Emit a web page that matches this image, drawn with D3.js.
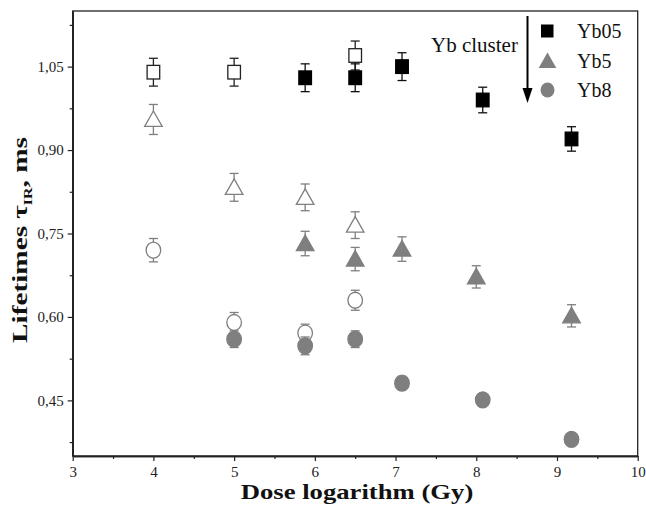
<!DOCTYPE html>
<html><head><meta charset="utf-8">
<script src="https://cdn.jsdelivr.net/npm/d3@7"></script>
<style>body{margin:0;background:#fff}svg{display:block}</style>
</head><body>
<script>
// ---- data ----
const xTicks = [3, 4, 5, 6, 7, 8, 9, 10];
const yTicks = [0.45, 0.60, 0.75, 0.90, 1.05];
const legendLabels = ["Yb05", "Yb5", "Yb8"];

const yb05OpenX = [4, 5, 6.5];
const yb05Open = [1.04, 1.04, 1.07];
const yb05OpenErr = [0.025, 0.025, 0.026];

const yb05X = [5.88, 6.5, 7.08, 8.08, 9.18];
const yb05 = [1.03, 1.03, 1.05, 0.99, 0.92];
const yb05Err = [0.025, 0.025, 0.025, 0.023, 0.022];

const yb5OpenX = [4, 5, 5.88, 6.5];
const yb5Open = [0.955, 0.833, 0.815, 0.765];
const yb5OpenErr = [0.027, 0.025, 0.024, 0.024];

const yb5X = [5.88, 6.5, 7.08, 8.0, 9.18];
const yb5 = [0.732, 0.704, 0.722, 0.672, 0.602];
const yb5Err = [0.022, 0.021, 0.022, 0.02, 0.02];

const yb8OpenX = [4, 5, 5.88, 6.5];
const yb8Open = [0.72, 0.59, 0.571, 0.63];
const yb8OpenErr = [0.021, 0.018, 0.016, 0.018];

const yb8X = [5, 5.88, 6.5, 7.08, 8.08, 9.18];
const yb8 = [0.56, 0.548, 0.56, 0.481, 0.451, 0.38];
const yb8Err = [0.015, 0.016, 0.015, 0.012, 0.01, 0.008];

// ---- layout ----
const W = 646, H = 505;
const L = 72.7, R = 637.7, T = 11, B = 456;
const gray = "#7f7f7f";
const serif = "'Liberation Serif','Times New Roman',serif";

const svg = d3.select("body").append("svg").attr("width", W).attr("height", H);
const x = d3.scaleLinear().domain([3, 10]).range([L, R]);
const y = d3.scaleLinear().domain([0.35, 1.15]).range([B, T]);

// frame
svg.append("rect").attr("x", L).attr("y", T).attr("width", R - L).attr("height", B - T)
  .attr("fill", "none").attr("stroke", "#222").attr("stroke-width", 1.3);

// axes
const xAxis = d3.axisBottom(x).tickValues(xTicks).tickFormat(d3.format("d")).tickSize(5).tickSizeOuter(0).tickPadding(5);
svg.append("g").attr("transform", `translate(0,${B})`).call(xAxis);
const xMinor = d3.axisBottom(x).tickValues(xTicks.slice(0, -1).map(v => v + 0.5)).tickSize(3).tickSizeOuter(0).tickFormat("");
svg.append("g").attr("transform", `translate(0,${B})`).call(xMinor);

const yAxis = d3.axisLeft(y).tickValues(yTicks).tickFormat(d => d3.format(".2f")(d).replace(".", ",")).tickSize(5).tickSizeOuter(0).tickPadding(4);
svg.append("g").attr("transform", `translate(${L},0)`).call(yAxis);
const yMinor = d3.axisLeft(y).tickValues([0.375, 0.525, 0.675, 0.825, 0.975, 1.125]).tickSize(3).tickSizeOuter(0).tickFormat("");
svg.append("g").attr("transform", `translate(${L},0)`).call(yMinor);

svg.selectAll(".domain").attr("stroke", "#222").attr("stroke-width", 1.3);
svg.selectAll(".tick line").attr("stroke", "#222").attr("stroke-width", 1.2);
svg.selectAll(".tick text").attr("font-family", serif).attr("font-size", 15).attr("fill", "#222");

// axis titles
svg.append("text").attr("transform", "translate(357,499) scale(1.27,1)").attr("text-anchor", "middle")
  .attr("font-family", serif).attr("font-weight", "bold").attr("font-size", 21).attr("fill", "#111")
  .text("Dose logarithm (Gy)");
const yl = svg.append("text").attr("transform", "translate(27,240) rotate(-90) scale(1.33,1)").attr("text-anchor", "middle")
  .attr("font-family", serif).attr("font-weight", "bold").attr("font-size", 22).attr("fill", "#111");
yl.append("tspan").text("Lifetimes \u03c4");
yl.append("tspan").attr("font-size", 12).attr("dy", 5).text("IR");
yl.append("tspan").attr("dy", -5).text(", ms");

// marker helpers
function errBars(g, xs, vs, es, color) {
  xs.forEach((xv, i) => {
    const cx = x(xv), y1 = y(vs[i] + es[i]), y2 = y(vs[i] - es[i]);
    g.append("line").attr("x1", cx).attr("x2", cx).attr("y1", y1).attr("y2", y2).attr("stroke", color).attr("stroke-width", 1.3);
    [y1, y2].forEach(yy => g.append("line").attr("x1", cx - 4.5).attr("x2", cx + 4.5).attr("y1", yy).attr("y2", yy)
      .attr("stroke", color).attr("stroke-width", 1.3));
  });
}
function drawSquares(g, xs, vs, fill, stroke) {
  g.selectAll(null).data(xs).enter().append("rect")
    .attr("x", d => x(d) - 6.3).attr("y", (d, i) => y(vs[i]) - 6.8).attr("width", 12.6).attr("height", 13.6)
    .attr("fill", fill).attr("stroke", stroke).attr("stroke-width", 1.3);
}
function triPath(cx, cy) {
  return `M${cx},${cy - 9}L${cx + 8.8},${cy + 6.5}L${cx - 8.8},${cy + 6.5}Z`;
}
function drawTris(g, xs, vs, fill, stroke) {
  g.selectAll(null).data(xs).enter().append("path")
    .attr("d", (d, i) => triPath(x(d), y(vs[i]) + 0.5))
    .attr("fill", fill).attr("stroke", stroke).attr("stroke-width", 1.3);
}
function drawCircles(g, xs, vs, fill, stroke) {
  g.selectAll(null).data(xs).enter().append("ellipse")
    .attr("cx", d => x(d)).attr("cy", (d, i) => y(vs[i])).attr("rx", 7.3).attr("ry", 8)
    .attr("fill", fill).attr("stroke", stroke).attr("stroke-width", 1.3);
}

const g = svg.append("g");
// open series
errBars(g, yb05OpenX, yb05Open, yb05OpenErr, "#222");
drawSquares(g, yb05OpenX, yb05Open, "#fff", "#222");
errBars(g, yb5OpenX, yb5Open, yb5OpenErr, gray);
drawTris(g, yb5OpenX, yb5Open, "#fff", gray);
errBars(g, yb8OpenX, yb8Open, yb8OpenErr, gray);
drawCircles(g, yb8OpenX, yb8Open, "#fff", gray);
// filled series
errBars(g, yb05X, yb05, yb05Err, "#111");
drawSquares(g, yb05X, yb05, "#000", "#000");
errBars(g, yb5X, yb5, yb5Err, gray);
drawTris(g, yb5X, yb5, gray, gray);
errBars(g, yb8X, yb8, yb8Err, gray);
drawCircles(g, yb8X, yb8, gray, gray);

// legend
const lg = svg.append("g");
const legY = [31, 61, 90];
lg.append("rect").attr("x", 541).attr("y", legY[0] - 6.5).attr("width", 12.5).attr("height", 13).attr("fill", "#000");
lg.append("path").attr("d", triPath(547.5, legY[1] + 0.5)).attr("fill", gray);
lg.append("ellipse").attr("cx", 547.5).attr("cy", legY[2]).attr("rx", 7).attr("ry", 7.5).attr("fill", gray);
legendLabels.forEach((t, i) => lg.append("text").attr("x", 577).attr("y", legY[i] + 7)
  .attr("font-family", serif).attr("font-size", 20).attr("fill", "#111").text(t));

// annotation
svg.append("text").attr("x", 431).attr("y", 52).attr("font-family", serif).attr("font-size", 21)
  .attr("fill", "#111").text("Yb cluster");
svg.append("line").attr("x1", 527.5).attr("x2", 527.5).attr("y1", 16).attr("y2", 93).attr("stroke", "#000").attr("stroke-width", 2);
svg.append("path").attr("d", "M522.5,88L532.5,88L527.5,103Z").attr("fill", "#000");
</script>
</body></html>
